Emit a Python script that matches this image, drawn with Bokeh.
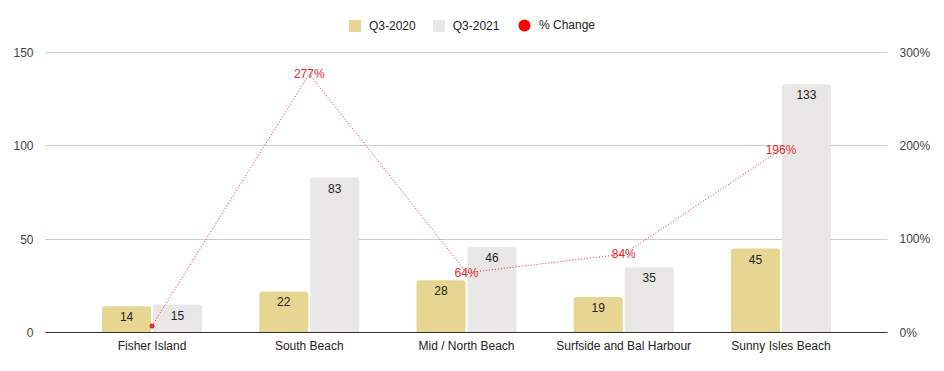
from bokeh.plotting import figure
from bokeh.models import (ColumnDataSource, FactorRange, Range1d, LinearAxis, FixedTicker,
                          PrintfTickFormatter, Legend, LegendItem)
from bokeh.transform import dodge
from bokeh.core.properties import value
from bokeh.embed import file_html
from bokeh.resources import INLINE

categories = ["Fisher Island", "South Beach", "Mid / North Beach", "Surfside and Bal Harbour", "Sunny Isles Beach"]
q3_2020 = [14, 22, 28, 19, 45]
q3_2021 = [15, 83, 46, 35, 133]
pct_change = [7, 277, 64, 84, 196]
left_ticks = [0, 50, 100, 150]
right_ticks = [0, 100, 200, 300]

FONT = "Liberation Sans"
C2020 = "#e6d691"
C2021 = "#e8e7e5"
RED = "#e8262c"

# frame extends above the 150 gridline to leave room for the legend row
TOP_LEFT = 150 * 320 / 280
TOP_RIGHT = 300 * 320 / 280

src = ColumnDataSource(dict(
    cat=categories, a=q3_2020, b=q3_2021, pct=pct_change,
    al=[str(v) for v in q3_2020], bl=[str(v) for v in q3_2021],
))
lab_src = ColumnDataSource(dict(
    cat=categories[1:], pct=pct_change[1:], lab=[f"{v}%" for v in pct_change[1:]],
))
dot_src = ColumnDataSource(dict(cat=categories[:1], pct=pct_change[:1]))

p = figure(x_range=FactorRange(*categories, range_padding=0.071), y_range=Range1d(0, TOP_LEFT),
           frame_width=842, frame_height=320, output_backend="svg", toolbar_location=None,
           min_border_left=45, min_border_right=57, min_border_top=12, min_border_bottom=39)
p.outline_line_color = None
p.extra_y_ranges = {"pct": Range1d(0, TOP_RIGHT)}

r_a = p.vbar(x=dodge("cat", -0.162, range=p.x_range), top="a", width=0.312, source=src,
             fill_color=C2020, line_color=None, border_radius=[3, 3, 0, 0])
r_b = p.vbar(x=dodge("cat", 0.162, range=p.x_range), top="b", width=0.312, source=src,
             fill_color=C2021, line_color=None, border_radius=[3, 3, 0, 0])

p.text(x=dodge("cat", -0.162, range=p.x_range), y="a", text="al", source=src,
       text_align="center", text_baseline="top", y_offset=6, text_font=value(FONT),
       text_font_size="12px", text_color="#222222")
p.text(x=dodge("cat", 0.162, range=p.x_range), y="b", text="bl", source=src,
       text_align="center", text_baseline="top", y_offset=6, text_font=value(FONT),
       text_font_size="12px", text_color="#222222")

p.line(x="cat", y="pct", source=src, y_range_name="pct", line_color=RED,
       line_width=1, line_dash="1 2")
p.scatter(x="cat", y="pct", source=dot_src, y_range_name="pct", size=5,
          fill_color=RED, line_color=None)
p.text(x="cat", y="pct", text="lab", source=lab_src, y_range_name="pct",
       text_align="center", text_baseline="middle", text_font=value(FONT),
       text_font_size="12px", text_color=RED)

leg_dot = p.scatter(x="cat", y="pct", source=dot_src, y_range_name="pct", size=12,
                    fill_color="#ff0000", line_color=None, marker="circle", visible=False)

# axes
p.xaxis.axis_line_color = "#333333"
p.xaxis.major_tick_line_color = None
p.xaxis.minor_tick_line_color = None
p.xaxis.major_label_text_font = FONT
p.xaxis.major_label_text_font_size = "12px"
p.xaxis.major_label_text_color = "#222222"
p.xaxis.major_label_standoff = 0
p.xgrid.grid_line_color = None

p.yaxis.ticker = FixedTicker(ticks=left_ticks)
p.yaxis.axis_line_color = None
p.yaxis.major_tick_line_color = None
p.yaxis.minor_tick_line_color = None
p.yaxis.major_label_text_font = FONT
p.yaxis.major_label_text_font_size = "12px"
p.yaxis.major_label_text_color = "#444444"
p.yaxis.major_label_standoff = 6
p.ygrid.grid_line_color = "#cccccc"
p.ygrid.ticker = FixedTicker(ticks=left_ticks[1:])

ax2 = LinearAxis(y_range_name="pct", ticker=FixedTicker(ticks=right_ticks),
                 formatter=PrintfTickFormatter(format="%d%%"))
ax2.axis_line_color = None
ax2.major_tick_line_color = None
ax2.minor_tick_line_color = None
ax2.major_label_text_font = FONT
ax2.major_label_text_font_size = "12px"
ax2.major_label_text_color = "#444444"
ax2.major_label_standoff = 6
p.add_layout(ax2, "right")

common = dict(orientation="horizontal", label_text_font=FONT, label_text_font_size="12px",
              label_text_color="#222222", padding=0, margin=0, border_line_color=None,
              background_fill_color=None, label_height=12)
legend_bars = Legend(items=[LegendItem(label="Q3-2020", renderers=[r_a]),
                            LegendItem(label="Q3-2021", renderers=[r_b])],
                     location=(302, 299), glyph_width=15, glyph_height=15,
                     label_standoff=7, spacing=15, **common)
legend_pct = Legend(items=[LegendItem(label="% Change", renderers=[leg_dot])],
                    location=(464, 292), glyph_width=30, glyph_height=30,
                    label_standoff=-1, spacing=0, **common)
p.add_layout(legend_bars, "center")
p.add_layout(legend_pct, "center")

open("out.html", "w").write(file_html(p, INLINE))
